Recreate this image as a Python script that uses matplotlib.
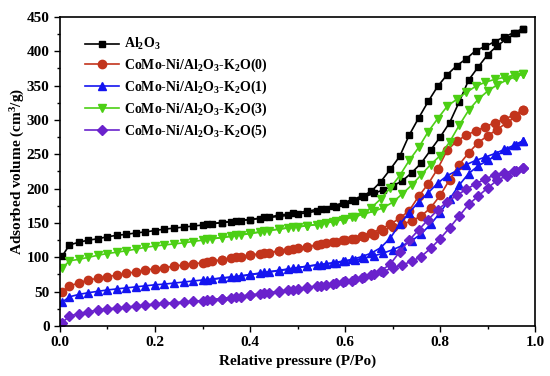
import matplotlib
matplotlib.use("Agg")
import matplotlib.pyplot as plt
from matplotlib.ticker import MultipleLocator, FuncFormatter

plt.rcParams['font.family'] = ['Liberation Serif', 'DejaVu Serif']
plt.rcParams['font.weight'] = 'bold'
plt.rcParams['mathtext.fontset'] = 'custom'
plt.rcParams['mathtext.rm'] = 'Liberation Serif:bold'
plt.rcParams['mathtext.it'] = 'Liberation Serif:italic:bold'
plt.rcParams['mathtext.bf'] = 'Liberation Serif:bold'

# Relative pressure points (adsorption and desorption branches)
p_ads = [0.005, 0.02, 0.04, 0.06, 0.08, 0.10, 0.12, 0.14, 0.16, 0.18, 0.20, 0.22, 0.24, 0.26, 0.28,
         0.30, 0.32, 0.34, 0.36, 0.38, 0.40, 0.42, 0.44, 0.46, 0.48, 0.50, 0.52, 0.54, 0.56, 0.58,
         0.60, 0.62, 0.64, 0.66, 0.68, 0.70, 0.72, 0.74, 0.76, 0.78, 0.80, 0.82, 0.84, 0.86, 0.88,
         0.90, 0.92, 0.94, 0.96, 0.975]
p_des = [0.975, 0.955, 0.935, 0.915, 0.895, 0.875, 0.855, 0.835, 0.815, 0.795, 0.775, 0.755, 0.735,
         0.715, 0.695, 0.675, 0.655, 0.635, 0.615, 0.595, 0.575, 0.55, 0.52, 0.49, 0.46, 0.43, 0.40,
         0.37, 0.34, 0.31]

al2o3_ads = [102, 118, 122, 125, 127, 130, 132, 133.5, 135.5, 137, 139, 141, 142.5, 144, 145.5,
             147, 149, 150.5, 152, 153.5, 155, 156.5, 158, 159.5, 161, 163, 165, 167, 170, 173,
             177, 182, 188, 193, 198, 204, 211, 223, 237, 256, 275, 296, 326, 358, 377,
             395, 408, 418, 427, 433]
al2o3_des = [433, 427, 421, 414, 407, 401, 389, 379, 366, 349, 327, 303, 278,
             247, 228, 210, 196, 189, 184, 179, 175, 171, 167, 164, 161, 158, 155,
             153, 150.5, 148]

k0_ads = [49, 58, 63, 67, 69.5, 72, 74, 76.5, 79, 81.5, 83.5, 85, 87, 89, 90.5,
          92, 94, 96, 98.5, 101, 103, 105, 107, 109, 111, 113, 115.5, 118, 120.5, 123,
          125, 127, 129, 133, 139, 144, 148, 153, 160, 172, 190, 213, 235, 252, 267,
          277, 286, 296, 305, 315]
k0_des = [315, 307, 301, 296, 290, 284, 278, 269, 256, 229, 207, 189, 168,
          157, 148, 141, 136, 131, 127, 124.5, 122, 119, 115.5, 112, 109, 106, 103,
          100, 96.5, 93]

k1_ads = [35, 42.5, 46, 48.5, 50.5, 52.5, 54, 55.5, 57, 58.5, 60, 61, 62.5, 64, 65.5,
          67, 68, 69.5, 71, 72.5, 74.5, 76.5, 78.5, 80.5, 82.5, 85, 87, 89, 90.5, 92,
          94, 96, 99, 102, 106, 111, 117, 124, 134, 148, 165, 185, 205, 222, 233,
          241, 249, 256, 263, 270]
k1_des = [270, 263, 257, 251, 246, 241, 235, 226, 219, 208, 194, 181, 165,
          148, 128, 114, 106, 101, 97, 94.5, 92, 89.5, 87, 84, 81, 78, 75,
          72, 70, 67.5]

k3_ads = [84, 95, 97, 100, 103, 105.5, 107.5, 109.5, 112, 114.5, 116.5, 118, 119.5, 121, 123,
          125, 127, 128.5, 130.5, 132.5, 134.5, 136.5, 139, 141, 143, 144.5, 146, 147.5, 150, 153,
          156, 159, 163, 167, 172, 180, 192, 205, 220, 235, 248, 268, 292, 314, 330,
          342, 351, 358, 363, 367]
k3_des = [367, 365, 362, 359, 355, 349, 340, 330, 320, 302, 283, 260, 241,
          219, 201, 185, 172, 164, 159, 155, 152, 149, 146, 143.5, 141, 138, 135,
          132, 129, 126]

k5_ads = [5, 14.5, 18, 21, 23, 25, 26, 27.5, 29, 30.5, 32, 33, 34, 35, 36,
          37, 38.5, 39.5, 41, 42.5, 44.5, 46.5, 48, 50, 52, 54.5, 56.5, 58, 59.5, 62,
          65, 68, 71, 75, 79, 85, 89, 94, 101, 113, 127, 143, 160, 177, 189,
          201, 212, 219, 225, 230]
k5_des = [230, 226, 223, 220, 214, 207, 199, 190, 181, 169, 155, 140, 125,
          108, 90, 80, 74, 70, 66, 63.5, 61, 58, 55.5, 53, 50.5, 47.5, 45,
          42.5, 40, 38]

labels = ['Al$_2$O$_3$',
          'CoMo-Ni/Al$_2$O$_3$-K$_2$O(0)',
          'CoMo-Ni/Al$_2$O$_3$-K$_2$O(1)',
          'CoMo-Ni/Al$_2$O$_3$-K$_2$O(3)',
          'CoMo-Ni/Al$_2$O$_3$-K$_2$O(5)']
colors = ['#000000', '#c2341c', '#1414f0', '#4ccf14', '#6a22cc']
markers = ['s', 'o', '^', 'v', 'D']
msizes = [5, 6, 6, 6, 5]
series = [(al2o3_ads, al2o3_des), (k0_ads, k0_des), (k1_ads, k1_des),
          (k3_ads, k3_des), (k5_ads, k5_des)]

fig = plt.figure(figsize=(5.5, 3.76), dpi=100)
ax = fig.add_axes([0.109, 0.133, 0.864, 0.822])

for (ads, des), lab, c, m, ms in zip(series, labels, colors, markers, msizes):
    ax.plot(p_ads, ads, color=c, marker=m, markersize=ms, linewidth=1.2, label=lab)
    ax.plot(p_des, des, color=c, marker=m, markersize=ms, linewidth=1.2)

ax.set_xlim(0, 1.0)
ax.set_ylim(0, 450)
ax.xaxis.set_major_locator(MultipleLocator(0.2))
ax.xaxis.set_minor_locator(MultipleLocator(0.1))
ax.yaxis.set_major_locator(MultipleLocator(50))
ax.yaxis.set_minor_locator(MultipleLocator(25))
ax.xaxis.set_major_formatter(FuncFormatter(lambda v, p: f'{v:.1f}'))
ax.tick_params(which='major', direction='out', length=4, width=1, labelsize=11, top=False, right=False)
ax.tick_params(which='minor', direction='out', length=2.5, width=1, top=False, right=False)
for s in ax.spines.values():
    s.set_linewidth(1.2)

ax.set_xlabel('Relative pressure (P/Po)', fontsize=11, fontweight='bold', labelpad=4)
ax.set_ylabel('Adsorbed volume (cm$^3$/g)', fontsize=11, fontweight='bold', labelpad=0)

ax.legend(loc='upper left', bbox_to_anchor=(0.04, 0.955), frameon=False, fontsize=10,
          handlelength=2.5, handletextpad=0.35, labelspacing=0.32, borderaxespad=0)

fig.savefig('out.png', dpi=100)
